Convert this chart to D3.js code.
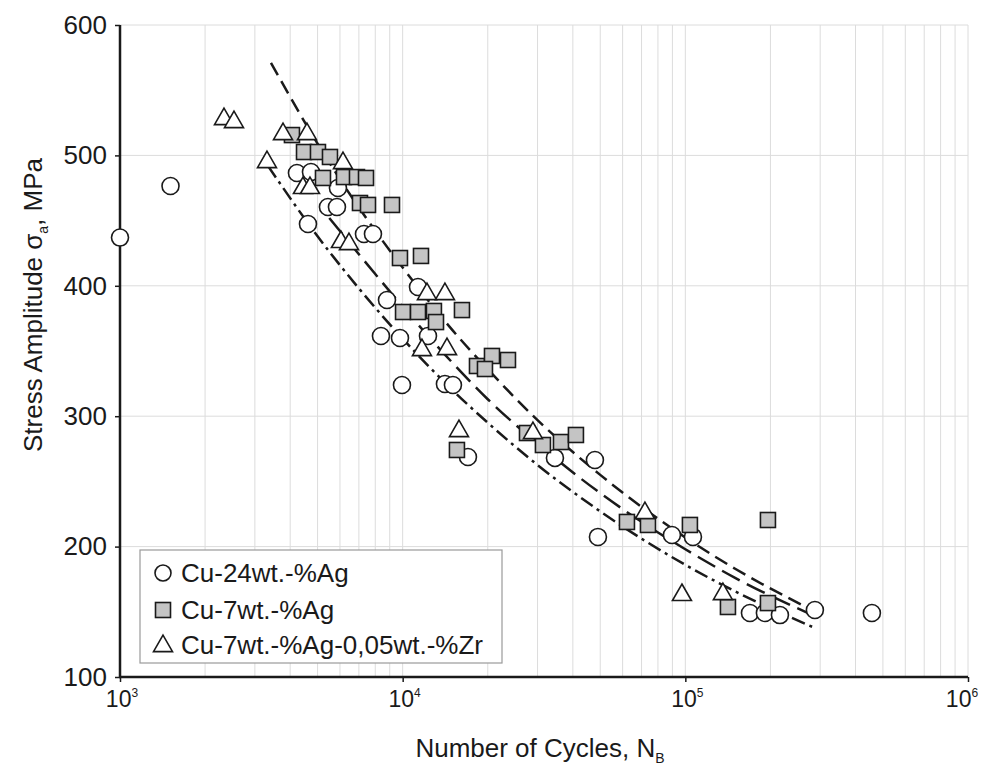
<!DOCTYPE html>
<html><head><meta charset="utf-8">
<script src="https://cdn.jsdelivr.net/npm/d3@7"></script>
<style>body{margin:0;background:#fff}text{font-family:"Liberation Sans",Arial,sans-serif;fill:#1a1a1a}</style>
</head><body><svg id="c" width="982" height="765"></svg>
<script>
// ---- data ----
const cu24Cycles = [1000,1509,4227,4738,4624,5903,5441,5855,7297,7851,11330,8801,8379,9783,12290,9943,14110,15060,17020,34570,47880,49070,89670,106400,169300,191200,216100,287300,457100];
const cu24Stress = [437,476.5,486.5,487.3,447.4,475,460.4,460.4,439.7,439.7,399.1,389.1,361.5,360,361.5,323.9,324.7,323.9,268.7,268,266.4,207.4,208.9,207.4,149.1,149.1,147.5,151.4,149.1];
const cu7Cycles = [4058,4477,5016,5532,5225,6199,6892,7418,7063,7540,9167,9783,11610,10030,11330,12900,13120,16210,18320,20700,19550,23580,15560,27530,31350,36310,41020,62150,73760,103800,196000,141500,196000];
const cu7Stress = [515.6,502.6,502.6,498.8,482.7,483.4,483.4,482.7,463.5,462,462,421.3,422.9,379.9,379.9,380.7,372.2,381.4,338.5,346.2,336.2,343.1,274.1,287.1,277.9,280.2,285.6,218.9,216.6,216.6,220.4,153.7,156.7];
const cuZrCycles = [2333,2531,3311,3773,4586,6150,4439,4700,6050,6457,12190,14110,11700,14350,15820,28900,71960,97270,135800];
const cuZrStress = [528.7,526.4,495.7,517.2,517.2,494.9,475.8,475.8,434.4,432.8,394.5,394.5,351.5,352.3,289.4,287.9,226.5,163.7,164.4];
// fitted curves, points
const fitACycles = [3420,5000,7000,10000,15000,20000,30000,50000,100000,150000,260000];
const fitAStress = [571,509,460,414,366,336,297,255,207,183,155];
const fitBCycles = [5500,8000,10000,15000,20000,30000,50000,70000,100000,150000,272000];
const fitBStress = [452,409,384,341,313,279,241,219,198,176,149];
const fitCCycles = [3337,5000,7000,10000,15000,20000,30000,50000,100000,150000,282500];
const fitCStress = [492,438,398,359.5,320,295,262.6,227,186,165.7,138.3];
const yTicks = [100,200,300,400,500,600];
const xDecades = [1e3,1e4,1e5,1e6];
const xExponents = ["3","4","5","6"];
const legendLabels = ["Cu-24wt.-%Ag","Cu-7wt.-%Ag","Cu-7wt.-%Ag-0,05wt.-%Zr"];

// ---- drawing ----
const svg = d3.select("#c");
const L=120,R=968,T=25,B=677;
const x = d3.scaleLog().domain([1e3,1e6]).range([L,R]);
const y = d3.scaleLinear().domain([100,600]).range([B,T]);
const ink="#1a1a1a";

// grid
const g = svg.append("g");
g.selectAll(".vg").data(x.ticks().filter(d=>d>1e3)).join("line")
  .attr("x1",d=>x(d)).attr("x2",d=>x(d)).attr("y1",T).attr("y2",B)
  .attr("stroke","#dcdcdc").attr("stroke-width",1);
g.selectAll(".hg").data(yTicks.filter(d=>d>100)).join("line")
  .attr("x1",L).attr("x2",R).attr("y1",d=>y(d)).attr("y2",d=>y(d))
  .attr("stroke","#dcdcdc").attr("stroke-width",1);

// axes
const ya = svg.append("g").attr("transform",`translate(${L},0)`)
  .call(d3.axisLeft(y).tickValues(yTicks).tickSize(5).tickPadding(8).tickFormat(d3.format("d")));
ya.select(".domain").remove();
ya.selectAll("line").attr("stroke",ink).attr("stroke-width",1.5);
ya.selectAll("text").attr("font-size",26).style("font-family","Liberation Sans, Arial, sans-serif").attr("fill",ink);

const xa = svg.append("g").attr("transform",`translate(0,${B})`)
  .call(d3.axisBottom(x).tickValues(xDecades).tickSize(5).tickFormat(""));
xa.select(".domain").remove();
xa.selectAll("line").attr("stroke",ink).attr("stroke-width",1.5);
xDecades.forEach((d,i)=>{
  const last = i===xDecades.length-1;
  const t = svg.append("text").attr("x",x(d)+(last?-6:2)).attr("y",707).attr("text-anchor","middle").attr("font-size",23);
  t.append("tspan").text("10");
  t.append("tspan").attr("dy",-10).attr("font-size",12).text(xExponents[i]);
});
svg.append("line").attr("x1",L).attr("x2",L).attr("y1",T).attr("y2",B+1).attr("stroke",ink).attr("stroke-width",2.5);
svg.append("line").attr("x1",L-1).attr("x2",R).attr("y1",B).attr("y2",B).attr("stroke",ink).attr("stroke-width",2.5);

// titles
const xt = svg.append("text").attr("x",540).attr("y",757).attr("text-anchor","middle").attr("font-size",26);
xt.append("tspan").text("Number of Cycles, N");
xt.append("tspan").attr("dy",6).attr("font-size",14).text("B");
const yt = svg.append("text").attr("transform","translate(42,305) rotate(-90)").attr("text-anchor","middle").attr("font-size",26);
yt.append("tspan").text("Stress Amplitude σ");
yt.append("tspan").attr("dy",6).attr("font-size",14).text("a");
yt.append("tspan").attr("dy",-6).text(", MPa");

// fit curves
const line = d3.line().x(d=>x(d[0])).y(d=>y(d[1])).curve(d3.curveMonotoneX);
const fits = [[fitACycles,fitAStress,"14,7"],[fitBCycles,fitBStress,"20,8"],[fitCCycles,fitCStress,"14,5,3,5"]];
fits.forEach(([c,s,dash])=>{
  svg.append("path").datum(c.map((v,i)=>[v,s[i]])).attr("d",line)
    .attr("fill","none").attr("stroke",ink).attr("stroke-width",2.5).attr("stroke-dasharray",dash);
});

// markers
const circ = (sel,cx,cy,r)=>sel.append("circle").attr("cx",cx).attr("cy",cy).attr("r",r).attr("fill","#fff").attr("stroke",ink).attr("stroke-width",1.6);
const sq = (sel,cx,cy,s)=>sel.append("rect").attr("x",cx-s/2).attr("y",cy-s/2).attr("width",s).attr("height",s).attr("fill","#c4c4c4").attr("stroke",ink).attr("stroke-width",1.6);
const tri = (sel,cx,cy,w)=>{const h=w*0.87;sel.append("path").attr("d",`M${cx},${cy-h*0.6}L${cx+w/2},${cy+h*0.4}L${cx-w/2},${cy+h*0.4}Z`).attr("fill","#fff").attr("stroke",ink).attr("stroke-width",1.6).attr("stroke-linejoin","miter");};
const mk = svg.append("g");
cu24Cycles.forEach((c,i)=>circ(mk,x(c),y(cu24Stress[i]),8.5));
cu7Cycles.forEach((c,i)=>sq(mk,x(c),y(cu7Stress[i]),15));
cuZrCycles.forEach((c,i)=>tri(mk,x(c),y(cuZrStress[i]),19));

// legend
const lg = svg.append("g");
lg.append("rect").attr("x",140).attr("y",550).attr("width",362).attr("height",113).attr("fill","#fff").attr("stroke","#9a9a9a").attr("stroke-width",1.2);
const rows=[573,610,645];
circ(lg,163,rows[0],8); sq(lg,163,rows[1],15); tri(lg,163,rows[2],19);
legendLabels.forEach((t,i)=>lg.append("text").attr("x",181).attr("y",rows[i]+9).attr("font-size",26).text(t));
</script></body></html>
